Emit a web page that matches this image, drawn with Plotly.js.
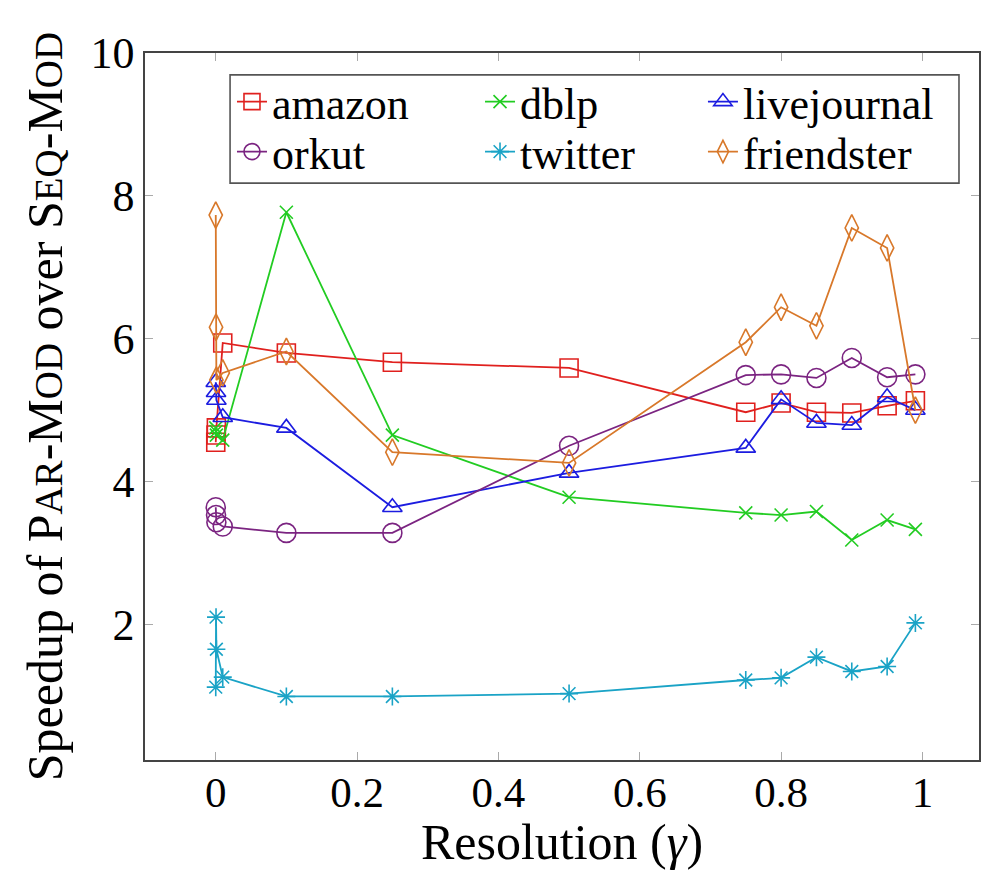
<!DOCTYPE html>
<html>
<head>
<meta charset="utf-8">
<script src="https://cdn.plot.ly/plotly-3.0.1.min.js"></script>
<style>
#chart text, #chart tspan { font-family: 'Liberation Serif', 'Times New Roman', serif !important; }
</style>
</head>
<body style="margin:0;background:#fff">
<div id="chart" style="width:982px;height:870px"></div>
<script>
// Resolution values (gamma); the first four are the cluster close to 0
const resolution = [0.0001, 0.0005, 0.001, 0.01, 0.1, 0.25, 0.5, 0.75, 0.8, 0.85, 0.9, 0.95, 0.99];

const amazon      = [4.55, 4.65, 4.75, 5.94, 5.80, 5.67, 5.59, 4.97, 5.10, 4.97, 4.96, 5.06, 5.13];
const dblp        = [4.75, 4.70, 4.65, 4.58, 7.77, 4.65, 3.78, 3.56, 3.53, 3.58, 3.18, 3.46, 3.33];
const livejournal = [5.39, 5.25, 5.14, 4.90, 4.75, 3.64, 4.12, 4.47, 5.15, 4.82, 4.79, 5.18, 5.00];
const orkut       = [3.64, 3.53, 3.43, 3.37, 3.28, 3.28, 4.50, 5.49, 5.50, 5.45, 5.73, 5.46, 5.50];
const twitter     = [1.12, 2.10, 1.65, 1.26, 0.99, 0.99, 1.03, 1.22, 1.25, 1.54, 1.34, 1.41, 2.02];
const friendster  = [7.73, 6.16, 5.42, 5.52, 5.82, 4.41, 4.26, 5.95, 6.44, 6.18, 7.55, 7.27, 5.00];

const seriesNames = ['amazon', 'dblp', 'livejournal', 'orkut', 'twitter', 'friendster'];
const seriesData  = [amazon, dblp, livejournal, orkut, twitter, friendster];
const xTickVals   = [0, 0.2, 0.4, 0.6, 0.8, 1];
const xTickText   = ['0', '0.2', '0.4', '0.6', '0.8', '1'];
const yTickVals   = [2, 4, 6, 8, 10];

const colors  = ['#e0201e', '#22cc22', '#1c1ce0', '#7b2481', '#1aa3c6', '#d8782a'];
const symbols = ['square-open', 'x-thin-open', 'triangle-up-open', 'circle-open', 'asterisk-open', 'diamond-tall-open'];
const sizes   = [18, 13, 17, 19, 15, 19];
const legendIds = ['legend', 'legend2', 'legend3', 'legend4', 'legend5', 'legend6'];
// legend slot positions (paper coords): three columns, two rows
const legX = [0.1043, 0.4017, 0.669];
const legY = [0.9307, 0.860];

const SERIF = 'Liberation Serif';

const traces = seriesNames.map((n, i) => ({
  type: 'scatter',
  mode: 'lines+markers',
  name: n,
  x: resolution,
  y: seriesData[i],
  legend: legendIds[i],
  line: {color: colors[i], width: 1.8},
  marker: {symbol: symbols[i], size: sizes[i], color: colors[i], line: {color: colors[i], width: 1.6}}
}));

const S = (t) => '<span style="font-size:39px">' + t + '</span>';

const layout = {
  width: 982, height: 870,
  margin: {l: 145, r: 3, t: 53, b: 110},
  paper_bgcolor: '#fff', plot_bgcolor: '#fff',
  showlegend: true,
  xaxis: {
    range: [-0.1, 1.08],
    tickvals: xTickVals,
    ticktext: xTickText,
    ticks: 'inside', ticklen: 8, tickcolor: '#aaa', tickwidth: 1.2,
    showgrid: false, zeroline: false,
    showline: true, linecolor: '#444', linewidth: 1.6, mirror: 'ticks',
    ticklabelstandoff: -6,
    tickfont: {family: SERIF, size: 43, color: '#000'},
    title: {text: 'Resolution (<i>γ</i>)', font: {family: SERIF, size: 50, color: '#000'}, standoff: 8}
  },
  yaxis: {
    range: [0.1, 10],
    tickvals: yTickVals,
    ticks: 'inside', ticklen: 8, tickcolor: '#aaa', tickwidth: 1.2,
    showgrid: false, zeroline: false,
    showline: true, linecolor: '#444', linewidth: 1.6, mirror: 'ticks',
    tickfont: {family: SERIF, size: 44, color: '#000'},
    title: {text: 'Speedup of P' + S('AR') + '-M' + S('OD') + ' over S' + S('EQ') + '-M' + S('OD'),
            font: {family: SERIF, size: 50, color: '#000'}, standoff: 12}
  },
  shapes: [{
    type: 'rect', xref: 'paper', yref: 'paper',
    x0: 0.102, x1: 0.976, y0: 0.816, y1: 0.969,
    line: {color: '#555', width: 1.6}, fillcolor: 'rgba(0,0,0,0)', layer: 'above'
  }]
};

legendIds.forEach((id, i) => {
  layout[id] = {
    x: legX[i % 3], y: legY[Math.floor(i / 3)], xref: 'paper', yref: 'paper',
    xanchor: 'left', yanchor: 'middle', orientation: 'v',
    bgcolor: 'rgba(0,0,0,0)', borderwidth: 0, itemwidth: 30,
    font: {family: SERIF, size: 44, color: '#000'}
  };
});

Plotly.newPlot('chart', traces, layout, {displayModeBar: false});
</script>
</body>
</html>
